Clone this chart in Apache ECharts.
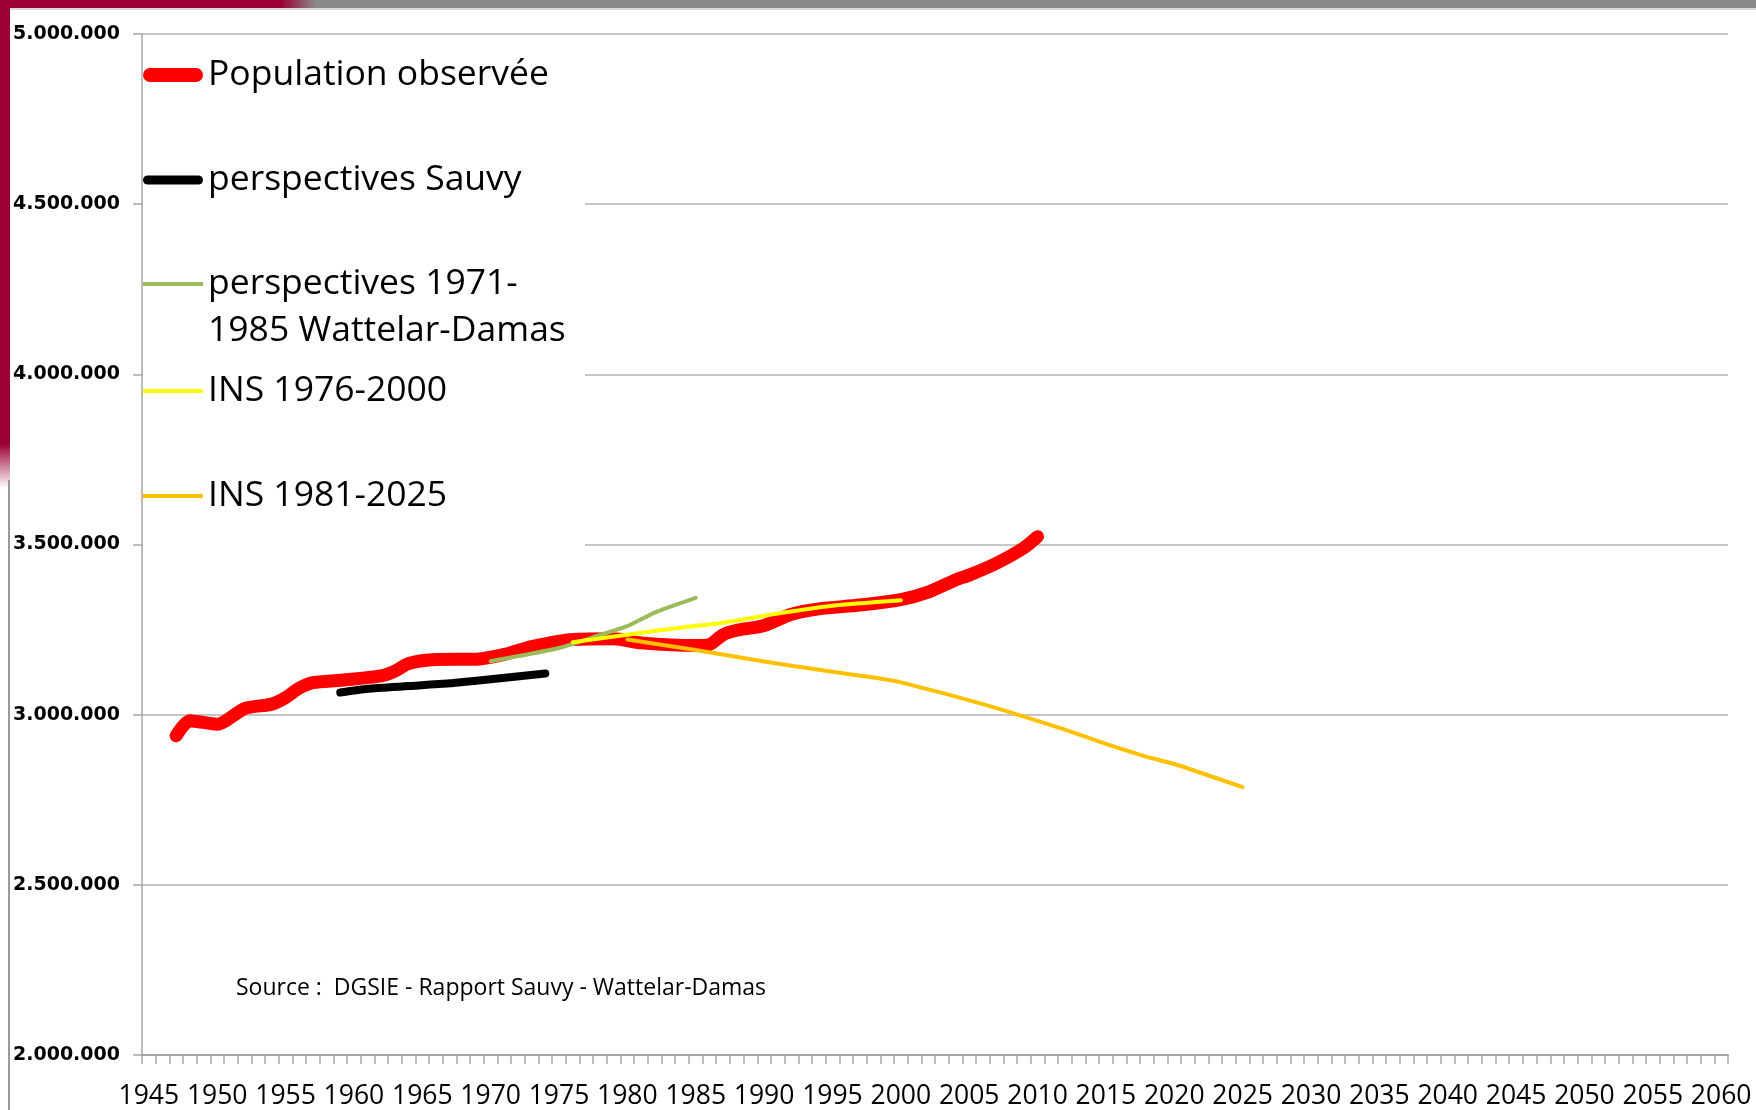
<!DOCTYPE html>
<html><head><meta charset="utf-8">
<script src="https://cdn.jsdelivr.net/npm/echarts@6/dist/echarts.min.js"></script>
<style>html,body{margin:0;padding:0;background:#fff}#c{width:1756px;height:1110px}</style>
</head><body><div id="c"></div>
<script>
// ---- categories (years on the x axis) ----
const years = ['1945','1946','1947','1948','1949','1950','1951','1952','1953','1954','1955','1956','1957','1958','1959',
'1960','1961','1962','1963','1964','1965','1966','1967','1968','1969','1970','1971','1972','1973','1974','1975','1976','1977',
'1978','1979','1980','1981','1982','1983','1984','1985','1986','1987','1988','1989','1990','1991','1992','1993','1994','1995',
'1996','1997','1998','1999','2000','2001','2002','2003','2004','2005','2006','2007','2008','2009','2010','2011','2012','2013',
'2014','2015','2016','2017','2018','2019','2020','2021','2022','2023','2024','2025','2026','2027','2028','2029','2030','2031',
'2032','2033','2034','2035','2036','2037','2038','2039','2040','2041','2042','2043','2044','2045','2046','2047','2048','2049',
'2050','2051','2052','2053','2054','2055','2056','2057','2058','2059','2060'];

// ---- y tick values ----
const yTicks = [2000000, 2500000, 3000000, 3500000, 4000000, 4500000, 5000000];

// ---- series names ----
const names = ['Population observée', 'perspectives Sauvy', 'perspectives 1971-1985 Wattelar-Damas', 'INS 1976-2000', 'INS 1981-2025'];

// ---- Population observée ----
const obsYears  = ['1947','1948','1950','1952','1954','1955','1956','1957','1959','1962','1963','1964','1966','1969','1971','1973','1976','1979','1981','1985','1986','1987','1988','1990','1992','1994','1997','2000','2002','2004','2005','2007','2009','2010'];
const obsValues = [2938000,2982000,2972000,3018000,3031000,3050000,3078000,3094000,3101000,3114000,3128000,3150000,3162000,3163000,3177000,3200000,3221000,3223000,3211000,3203000,3206000,3235000,3248000,3262000,3295000,3311000,3322000,3338000,3360000,3396000,3410000,3445000,3490000,3523000];

// ---- perspectives Sauvy ----
const sauvyYears  = ['1959','1961','1964','1967','1970','1974'];
const sauvyValues = [3065000,3076000,3084000,3092000,3104000,3121000];

// ---- perspectives 1971-1985 Wattelar-Damas ----
const wdYears  = ['1970','1972','1975','1978','1980','1982','1985'];
const wdValues = [3157000,3172000,3196000,3234000,3260000,3300000,3343000];

// ---- INS 1976-2000 ----
const ins1Years  = ['1976','1980','1984','1987','1991','1995','2000'];
const ins1Values = [3213000,3235000,3256000,3270000,3297000,3320000,3336000];

// ---- INS 1981-2025 ----
const ins2Years  = ['1980','1985','1990','1995','1998','2000','2006','2012','2015','2018','2020','2025'];
const ins2Values = [3221000,3190000,3156000,3126000,3109000,3095000,3031000,2956000,2914000,2876000,2855000,2787000];

const pairs = (ys, vs) => ys.map((y, i) => [y, vs[i]]);
const fmt = v => String(v).replace(/\B(?=(\d{3})+(?!\d))/g, '.');

const chart = echarts.init(document.getElementById('c'), null, {renderer: 'canvas'});

const legendFont = {fontFamily: 'Open Sans', fontSize: 35.5, color: '#000'};
const legendBase = {
  orient: 'vertical', left: 143, padding: 0, itemWidth: 60,
  selectedMode: false, itemStyle: {borderWidth: 0},
  textStyle: legendFont
};
const HALF = 15;

const option = {
  backgroundColor: '#fff',
  animation: false,
  grid: {left: 142, right: 28, top: 34, bottom: 52, containLabel: false},
  xAxis: {
    type: 'category', data: years, boundaryGap: true,
    axisLine: {show: true, lineStyle: {color: '#a6a6a6', width: 2}},
    axisTick: {show: true, interval: 0, length: 9, lineStyle: {color: '#a6a6a6', width: 1.5}},
    axisLabel: {interval: 4, margin: 28, fontFamily: 'Open Sans', fontSize: 26.5, color: '#000'},
    splitLine: {show: false}
  },
  yAxis: {
    type: 'value', min: yTicks[0], max: yTicks[yTicks.length - 1], interval: yTicks[1] - yTicks[0],
    axisLine: {show: true, lineStyle: {color: '#a6a6a6', width: 1.5}},
    axisTick: {show: true, length: 9, lineStyle: {color: '#a6a6a6', width: 1.5}},
    axisLabel: {margin: 22, fontFamily: 'DejaVu Sans', fontWeight: 'bold', fontSize: 19, color: '#000', formatter: fmt},
    splitLine: {show: true, lineStyle: {color: '#b3b3b3', width: 1.5}}
  },
  legend: [
    Object.assign({}, legendBase, {data: [names[0]], top: 72 - HALF, itemHeight: 14,
      icon: 'path://M7,0L53,0A7,7,0,0,1,53,14L7,14A7,7,0,0,1,7,0Z'}),
    Object.assign({}, legendBase, {data: [names[1]], top: 177 - HALF, itemHeight: 9,
      icon: 'path://M4.5,0L55.5,0A4.5,4.5,0,0,1,55.5,9L4.5,9A4.5,4.5,0,0,1,4.5,0Z'}),
    Object.assign({}, legendBase, {data: [names[2]], top: 284 - 70.5, itemHeight: 4, icon: 'rect',
      formatter: () => ' \nperspectives 1971-\n1985 Wattelar-Damas',
      textStyle: Object.assign({lineHeight: 47}, legendFont)}),
    Object.assign({}, legendBase, {data: [names[3]], top: 388 - HALF, itemHeight: 4, icon: 'rect'}),
    Object.assign({}, legendBase, {data: [names[4]], top: 493 - HALF, itemHeight: 4, icon: 'rect'})
  ],
  graphic: [
    {type: 'rect', z: 3, silent: true, shape: {x: 143, y: 40, width: 442, height: 531}, style: {fill: '#fff'}},
    {type: 'text', z: 5, silent: true, left: 236, top: 977,
      style: {text: 'Source :  DGSIE - Rapport Sauvy - Wattelar-Damas', fontFamily: 'Open Sans', fontSize: 23, fill: '#000'}},
    {type: 'rect', z: 10, silent: true, shape: {x: 0, y: 0, width: 1756, height: 8},
      style: {fill: new echarts.graphic.LinearGradient(0, 0, 1, 0, [
        {offset: 0, color: '#9c0032'}, {offset: 0.16, color: '#9c0032'}, {offset: 0.18, color: '#8a8a8a'}, {offset: 1, color: '#8a8a8a'}])}},
    {type: 'rect', z: 10, silent: true, shape: {x: 0, y: 8, width: 1756, height: 2}, style: {fill: '#d8d8d8'}},
    {type: 'rect', z: 10, silent: true, shape: {x: 0, y: 0, width: 10, height: 1110},
      style: {fill: new echarts.graphic.LinearGradient(0, 0, 0, 1, [
        {offset: 0, color: '#9c0032'}, {offset: 0.40, color: '#9c0032'}, {offset: 0.44, color: '#ffffff'}, {offset: 1, color: '#ffffff'}])}},
    {type: 'rect', z: 11, silent: true, shape: {x: 8, y: 480, width: 2, height: 630}, style: {fill: '#9a9a9a'}}
  ],
  series: [
    {name: names[0], type: 'line', data: pairs(obsYears, obsValues), symbol: 'none', smooth: 0.25, color: '#ff0000',
      lineStyle: {width: 13, color: '#ff0000', cap: 'round', join: 'round'}},
    {name: names[1], type: 'line', data: pairs(sauvyYears, sauvyValues), symbol: 'none', smooth: 0.2, color: '#000000',
      lineStyle: {width: 8, color: '#000000', cap: 'round', join: 'round'}},
    {name: names[2], type: 'line', data: pairs(wdYears, wdValues), symbol: 'none', smooth: 0.2, color: '#9bbb59',
      lineStyle: {width: 4, color: '#9bbb59', cap: 'round', join: 'round'}},
    {name: names[3], type: 'line', data: pairs(ins1Years, ins1Values), symbol: 'none', smooth: 0.2, color: '#ffff00',
      lineStyle: {width: 4, color: '#ffff00', cap: 'round', join: 'round'}},
    {name: names[4], type: 'line', data: pairs(ins2Years, ins2Values), symbol: 'none', smooth: 0.2, color: '#ffc000',
      lineStyle: {width: 4, color: '#ffc000', cap: 'round', join: 'round'}}
  ]
};
chart.setOption(option);
</script>
</body></html>
